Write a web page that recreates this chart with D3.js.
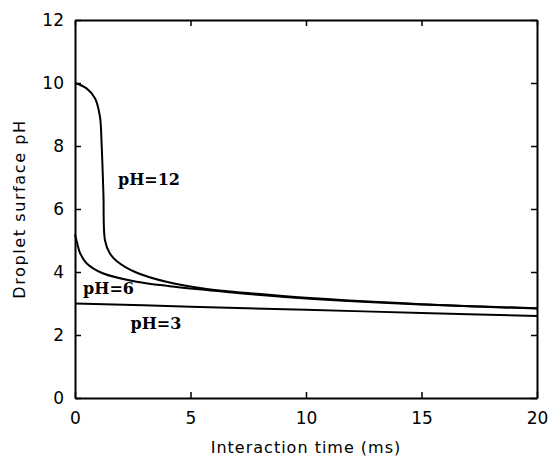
<!DOCTYPE html>
<html>
<head>
<meta charset="utf-8">
<script src="https://cdn.jsdelivr.net/npm/d3@7"></script>
<style>
  body { margin: 0; background: #fff; }
  svg { display: block; }
</style>
</head>
<body>
<script>
// Data: time (ms) vs droplet surface pH
var xTicks = [0, 5, 10, 15, 20];
var yTicks = [0, 2, 4, 6, 8, 10, 12];

var ph12Time = [0, 0.5, 0.87, 1.08, 1.15, 1.23, 1.3, 1.5, 1.8, 2.6, 4.0, 5.7, 7.5, 10, 15, 20];
var ph12Val  = [10.0, 9.83, 9.51, 8.93, 8.1, 6.5, 5.0, 4.6, 4.35, 4.0, 3.68, 3.46, 3.33, 3.18, 2.98, 2.85];

var ph6Time = [0, 0.1, 0.22, 0.5, 1.2, 2.67, 4.1, 5.7, 7.5, 10, 15, 20];
var ph6Val  = [5.2, 4.9, 4.6, 4.28, 3.96, 3.69, 3.55, 3.43, 3.3, 3.16, 2.97, 2.84];

var ph3Time = [0, 5, 10, 15, 20];
var ph3Val  = [3.0, 2.9, 2.8, 2.7, 2.6];

var curveLabels = ["pH=12", "pH=6", "pH=3"];

// SVG area
var svgWidth = 549;
var svgHeight = 459;
var margin = { top: 20, right: 12, bottom: 61, left: 75 };
var width = svgWidth - margin.left - margin.right;
var height = svgHeight - margin.top - margin.bottom;

var svg = d3.select("body")
    .append("svg")
    .attr("width", svgWidth)
    .attr("height", svgHeight);

var g = svg.append("g")
    .attr("transform", `translate(${margin.left}, ${margin.top})`);

var x = d3.scaleLinear().domain([0, 20]).range([0, width]);
var y = d3.scaleLinear().domain([0, 12]).range([height, 0]);

var sansFont = "'DejaVu Sans', sans-serif";

// axes with inward ticks on all four sides
g.append("g")
    .attr("transform", `translate(0, ${height})`)
    .call(d3.axisBottom(x).tickValues(xTicks).tickSizeInner(-6).tickSizeOuter(0).tickPadding(14));

g.append("g")
    .call(d3.axisLeft(y).tickValues(yTicks).tickSizeInner(-6).tickSizeOuter(0).tickPadding(11));

g.append("g")
    .call(d3.axisTop(x).tickValues(xTicks).tickSizeInner(-6).tickSizeOuter(0).tickFormat(""));

g.append("g")
    .attr("transform", `translate(${width}, 0)`)
    .call(d3.axisRight(y).tickValues(yTicks).tickSizeInner(-6).tickSizeOuter(0).tickFormat(""));

g.selectAll(".domain").attr("stroke", "#000").attr("stroke-width", 2);
g.selectAll(".tick line").attr("stroke", "#000").attr("stroke-width", 1.5);
g.selectAll(".tick text")
    .attr("fill", "#000")
    .attr("font-family", sansFont)
    .attr("font-size", "17px");

// axis titles
g.append("text")
    .attr("x", width / 2)
    .attr("y", height + 55)
    .attr("text-anchor", "middle")
    .attr("font-family", sansFont)
    .attr("font-size", "16px")
    .attr("letter-spacing", "1px")
    .text("Interaction time (ms)");

g.append("text")
    .attr("transform", "rotate(-90)")
    .attr("x", -height / 2)
    .attr("y", -50)
    .attr("text-anchor", "middle")
    .attr("font-family", sansFont)
    .attr("font-size", "16px")
    .attr("letter-spacing", "1.6px")
    .text("Droplet surface pH");

// curves
var line = d3.line()
    .x(d => x(d[0]))
    .y(d => y(d[1]))
    .curve(d3.curveCatmullRom.alpha(0.5));

var series = [
    d3.zip(ph12Time, ph12Val),
    d3.zip(ph6Time, ph6Val),
    d3.zip(ph3Time, ph3Val)
];

g.selectAll(".curve")
    .data(series)
    .enter()
    .append("path")
    .attr("class", "curve")
    .attr("d", line)
    .attr("fill", "none")
    .attr("stroke", "#000")
    .attr("stroke-width", 2);

// curve labels
var labelPos = [[1.86, 6.76], [0.35, 3.3], [2.4, 2.2]];
g.selectAll(".lbl")
    .data(curveLabels)
    .enter()
    .append("text")
    .attr("class", "lbl")
    .attr("x", (d, i) => x(labelPos[i][0]))
    .attr("y", (d, i) => y(labelPos[i][1]))
    .attr("font-family", "'DejaVu Serif', serif")
    .attr("font-weight", "bold")
    .attr("font-size", "16px")
    .attr("fill", "#000")
    .text(d => d);
</script>
</body>
</html>
